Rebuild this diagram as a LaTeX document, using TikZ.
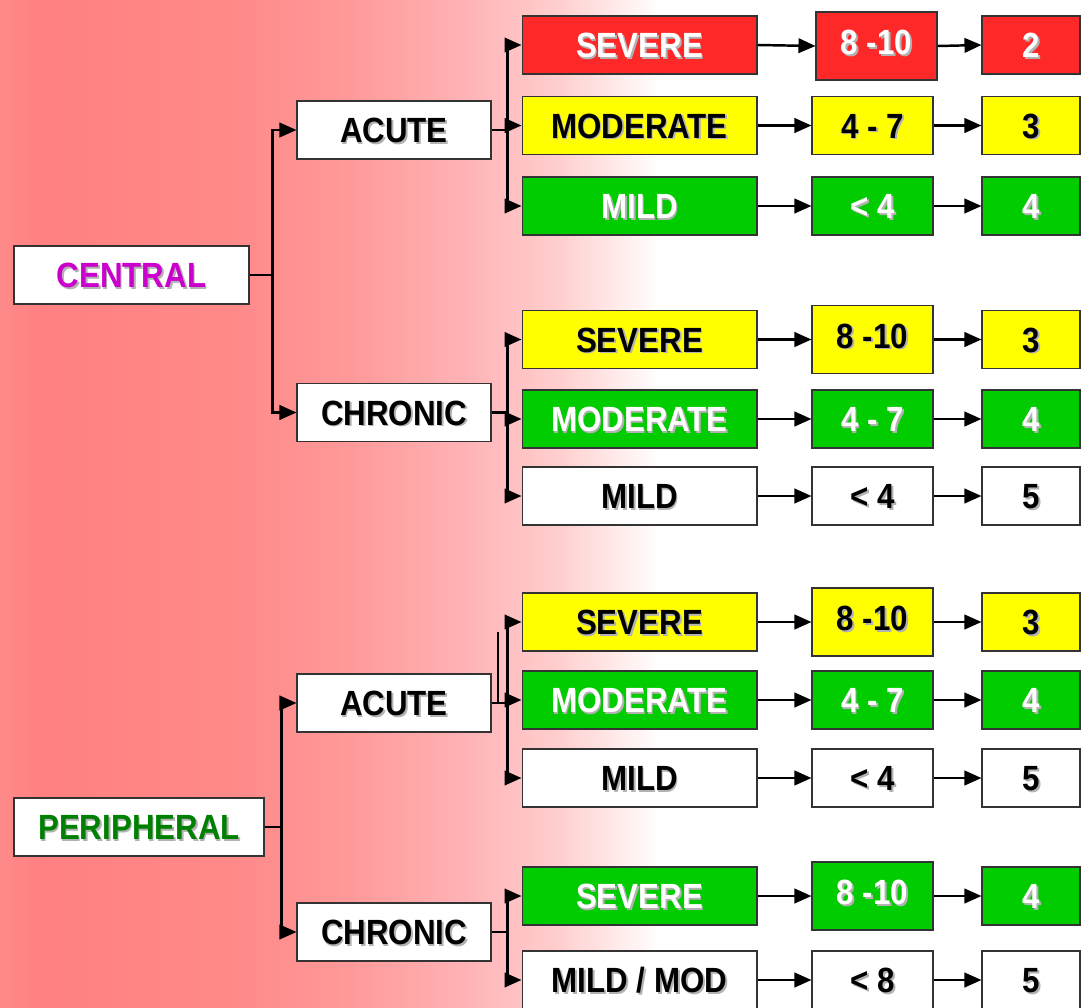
\documentclass[tikz,border=0pt]{standalone}
\usepackage{fontspec}
\setmainfont{Liberation Sans}
\usetikzlibrary{arrows.meta}

\definecolor{sevred}{RGB}{255,40,40}
\definecolor{sevyel}{RGB}{255,255,0}
\definecolor{sevgrn}{RGB}{0,204,0}
\definecolor{centmag}{RGB}{204,0,204}
\definecolor{perigrn}{RGB}{0,128,0}
\definecolor{bgA}{RGB}{255,138,138}
\definecolor{bgB}{RGB}{255,128,128}
\definecolor{bgC}{RGB}{255,137,137}
\definecolor{bgD}{RGB}{255,153,153}
\definecolor{bgE}{RGB}{255,180,183}
\definecolor{bgF}{RGB}{255,207,207}

\newcommand{\shd}[1]{\scalebox{1}[1.12]{\rlap{\kern1pt\raisebox{-1pt}{\color{black!30}#1}}#1}}

\tikzset{
  box/.style={draw=black!80, line width=0.6pt, inner sep=0pt,
    text height=0.5cm, text depth=0pt,
    font=\bfseries\fontsize{17.8}{20}\selectfont},
  top/.style={box, fill=white, minimum height=1.16cm},
  mid/.style={box, fill=white, minimum width=3.88cm, minimum height=1.16cm},
  sev/.style={box, minimum width=4.7cm, minimum height=1.16cm},
  rng/.style={box, minimum width=2.42cm, minimum height=1.16cm},
  rngtall/.style={box, minimum width=2.42cm, minimum height=1.36cm, text depth=0.16cm},
  fin/.style={box, minimum width=1.96cm, minimum height=1.16cm},
  red/.style={fill=sevred, text=white},
  yel/.style={fill=sevyel, text=black},
  grn/.style={fill=sevgrn, text=white},
  wht/.style={fill=white, text=black},
  arr/.style={line width=1.4pt, -{Triangle[length=0.34cm,width=0.29cm]}},
  thin/.style={line width=1.4pt}
}

\begin{document}
\begin{tikzpicture}[x=0.02cm, y=-0.02cm]
\useasboundingbox (0,0) rectangle (1086,1008);
\fill[white] (0,0) rectangle (1086,1008);
\foreach \xa/\xb/\ca/\cb in {0/41/bgA/bgB, 40/231/bgB/bgC, 230/351/bgC/bgD,
    350/471/bgD/bgE, 470/561/bgE/bgF, 560/660/bgF/white}
  \shade[left color=\ca, right color=\cb] (\xa,0) rectangle (\xb,1008);

% first level
\node[top, minimum width=4.7cm, text=centmag] (cent) at (131.5,275) {\shd{CENTRAL}};
\node[top, minimum width=5cm, text=perigrn] (peri) at (139,827) {\shd{PERIPHERAL}};

% second level
\node[mid] (ca) at (394,130) {\shd{ACUTE}};
\node[mid] (cc) at (394,412.5) {\shd{CHRONIC}};
\node[mid] (pa) at (394,703) {\shd{ACUTE}};
\node[mid] (pc) at (394,932) {\shd{CHRONIC}};

% severity
\node[sev,red] (sev1) at (639.5,45) {\shd{SEVERE}};
\node[sev,yel] (sev2) at (639.5,125.5) {\shd{MODERATE}};
\node[sev,grn] (sev3) at (639.5,206) {\shd{MILD}};
\node[sev,yel] (sev4) at (639.5,339.5) {\shd{SEVERE}};
\node[sev,grn] (sev5) at (639.5,419) {\shd{MODERATE}};
\node[sev,wht] (sev6) at (639.5,496) {\shd{MILD}};
\node[sev,yel] (sev7) at (639.5,622) {\shd{SEVERE}};
\node[sev,grn] (sev8) at (639.5,700) {\shd{MODERATE}};
\node[sev,wht] (sev9) at (639.5,778) {\shd{MILD}};
\node[sev,grn] (sev10) at (639.5,896) {\shd{SEVERE}};
\node[sev,wht] (sev11) at (639.5,980) {\shd{MILD / MOD}};

% score range
\node[rngtall,red] (rng1) at (876.5,46) {\shd{8 -10}};
\node[rng,yel] (rng2) at (872.5,125.5) {\shd{4 - 7}};
\node[rng,grn] (rng3) at (872.5,206) {\shd{< 4}};
\node[rngtall,yel] (rng4) at (872.5,339.5) {\shd{8 -10}};
\node[rng,grn] (rng5) at (872.5,419) {\shd{4 - 7}};
\node[rng,wht] (rng6) at (872.5,496) {\shd{< 4}};
\node[rngtall,yel] (rng7) at (872.5,622) {\shd{8 -10}};
\node[rng,grn] (rng8) at (872.5,700) {\shd{4 - 7}};
\node[rng,wht] (rng9) at (872.5,778) {\shd{< 4}};
\node[rngtall,grn] (rng10) at (872.5,896) {\shd{8 -10}};
\node[rng,wht] (rng11) at (872.5,980) {\shd{< 8}};

% grade
\node[fin,red] (fin1) at (1031,45) {\shd{2}};
\node[fin,yel] (fin2) at (1031,125.5) {\shd{3}};
\node[fin,grn] (fin3) at (1031,206) {\shd{4}};
\node[fin,yel] (fin4) at (1031,339.5) {\shd{3}};
\node[fin,grn] (fin5) at (1031,419) {\shd{4}};
\node[fin,wht] (fin6) at (1031,496) {\shd{5}};
\node[fin,yel] (fin7) at (1031,622) {\shd{3}};
\node[fin,grn] (fin8) at (1031,700) {\shd{4}};
\node[fin,wht] (fin9) at (1031,778) {\shd{5}};
\node[fin,grn] (fin10) at (1031,896) {\shd{4}};
\node[fin,wht] (fin11) at (1031,980) {\shd{5}};

% tree connectors
\draw[arr] (cent.east) -- ++(23,0) |- (ca.west);
\draw[arr] (cent.east) -- ++(23,0) |- (cc.west);
\draw[arr] (peri.east) -- ++(17,0) |- (pa.west);
\draw[arr] (peri.east) -- ++(17,0) |- (pc.west);
\foreach \s in {1,2,3} \draw[arr] (ca.east) -- ++(16,0) |- (sev\s.west);
\foreach \s in {4,5,6} \draw[arr] (cc.east) -- ++(16,0) |- (sev\s.west);
\foreach \s in {7,8,9} \draw[arr] (pa.east) -- ++(16,0) |- (sev\s.west);
\foreach \s in {10,11} \draw[arr] (pc.east) -- ++(16,0) |- (sev\s.west);
\coordinate (stray) at (498,632);
\draw[thin] (stray) -- (stray |- pa.east);

% rows
\foreach \i in {1,...,11} {
  \draw[arr] (sev\i.east) -- (rng\i.west);
  \draw[arr] (rng\i.east) -- (fin\i.west);
}
\end{tikzpicture}
\end{document}
